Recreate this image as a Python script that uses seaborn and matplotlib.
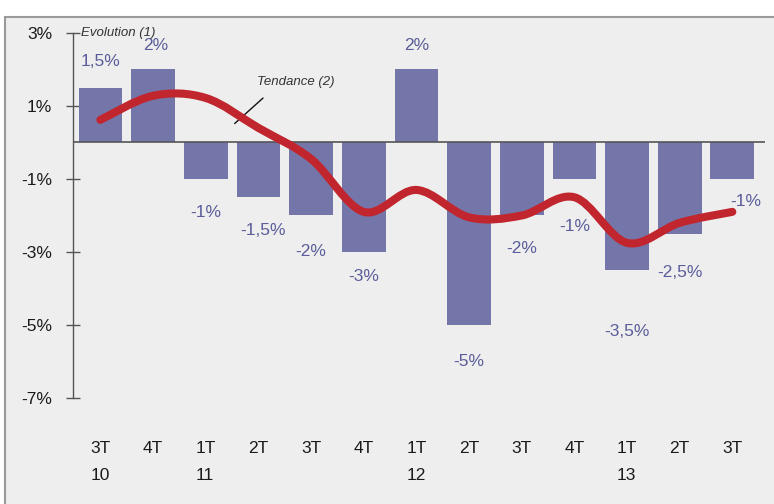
import numpy as np
import pandas as pd
import matplotlib
matplotlib.use("Agg")
import matplotlib.pyplot as plt
from matplotlib.path import Path
from matplotlib.patches import PathPatch, Rectangle
import seaborn as sns

# Data
quarters = ["3T", "4T", "1T", "2T", "3T", "4T", "1T", "2T", "3T", "4T", "1T", "2T", "3T"]
years = ["10", "", "11", "", "", "", "12", "", "", "", "13", "", ""]
evolution = [1.5, 2, -1, -1.5, -2, -3, 2, -5, -2, -1, -3.5, -2.5, -1]
tendance = [0.62, 1.28, 1.22, 0.4, -0.45, -1.9, -1.3, -2.05, -2.0, -1.5, -2.75, -2.2, -1.9]
value_labels = ["1,5%", "2%", "-1%", "-1,5%", "-2%", "-3%", "2%", "-5%", "-2%", "-1%", "-3,5%", "-2,5%", "-1%"]
yticks = [3, 1, -1, -3, -5, -7]

# label offsets in points (style only)
label_dy = [19, 17, -24, -24, -26, -18, 17, -26, -24, -34, -44, -28, -16]
label_dx = [0, 2, 0, 3, 0, 0, 0, 0, 0, 0, 0, 0, 10]

BAR = "#7476a9"
TXT = "#5a5d99"
RED = "#c1262e"
BG = "#eeeeee"

sns.set_theme(style="white")
plt.rcParams["font.family"] = ["Liberation Sans", "DejaVu Sans"]

fig = plt.figure(figsize=(7.74, 5.04), dpi=100)
fig.patch.set_facecolor("white")
# panel background with border
fig.patches.append(Rectangle((5 / 774, -0.01), 1.0, 1 - 17 / 504 + 0.01, transform=fig.transFigure,
                             facecolor=BG, edgecolor="#9a9a9a", lw=1.5, zorder=-10))

ax = fig.add_axes([73 / 774, 1 - 398 / 504, (765 - 73) / 774, (398 - 33) / 504], zorder=1)
ax.set_facecolor("none")

df = pd.DataFrame({"periode": [f"{q} {y}_{i}" for i, (q, y) in enumerate(zip(quarters, years))],
                   "evolution": evolution})
sns.barplot(data=df, x="periode", y="evolution", color=BAR, saturation=1, width=0.83,
            linewidth=0, edgecolor="none", ax=ax, zorder=2)

# smooth trend line (Catmull-Rom through the points)
xs = np.arange(len(tendance), dtype=float)
ys = np.array(tendance)
verts = [(xs[0], ys[0])]
codes = [Path.MOVETO]
for i in range(len(xs) - 1):
    p0 = np.array([xs[max(i - 1, 0)], ys[max(i - 1, 0)]])
    p1 = np.array([xs[i], ys[i]])
    p2 = np.array([xs[i + 1], ys[i + 1]])
    p3 = np.array([xs[min(i + 2, len(xs) - 1)], ys[min(i + 2, len(xs) - 1)]])
    c1 = p1 + (p2 - p0) / 6
    c2 = p2 - (p3 - p1) / 6
    verts += [tuple(c1), tuple(c2), tuple(p2)]
    codes += [Path.CURVE4] * 3
ax.add_patch(PathPatch(Path(verts, codes), facecolor="none", edgecolor=RED, lw=5.8,
                       capstyle="round", zorder=4))

ax.axhline(0, color="#555555", lw=1.2, zorder=3)

for i, (v, lab) in enumerate(zip(evolution, value_labels)):
    ax.annotate(lab, (i, v), xytext=(label_dx[i], label_dy[i]), textcoords="offset points",
                ha="center", va="center", color=TXT, fontsize=12.5, zorder=5)

ax.set_ylim(-7, 3)
ax.set_xlim(-0.52, 12.62)
ax.set_yticks(yticks)
ax.set_yticklabels([f"{t}%" for t in yticks], fontsize=12.5, color="#1a1a1a")
ax.set_xticks(range(len(quarters)))
ax.set_xticklabels([f"{q}\n{y}" for q, y in zip(quarters, years)], fontsize=12.5,
                   color="#1a1a1a", linespacing=2.0, ha="center")
for t in ax.get_xticklabels():
    t.set_multialignment("left")
ax.tick_params(axis="y", direction="inout", length=10, width=1, color="#555555", pad=10, left=True)
ax.tick_params(axis="x", length=0, pad=31)
ax.set_xlabel("")
ax.set_ylabel("")
for s in ["top", "right", "bottom"]:
    ax.spines[s].set_visible(False)
ax.spines["left"].set_color("#555555")
ax.spines["left"].set_linewidth(1)

ax.text(0.012, 1.0, "Evolution (1)", transform=ax.transAxes, fontsize=9.5, style="italic",
        color="#333333", va="center", ha="left", zorder=6)
ax.annotate("Tendance (2)", xy=(2.55, 0.52), xytext=(2.98, 1.65), fontsize=9.5, style="italic",
            color="#333333", ha="left", va="center",
            arrowprops=dict(arrowstyle="-", color="#111111", lw=1, shrinkA=7, shrinkB=0,
                            relpos=(0.3, 0.5)))

fig.savefig("out.png", dpi=100)
